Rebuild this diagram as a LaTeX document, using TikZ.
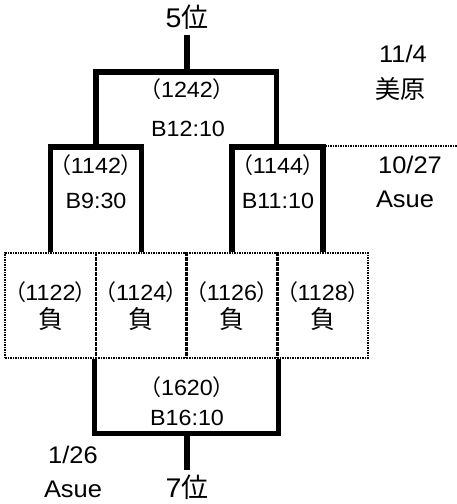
\documentclass[tikz,border=0pt]{standalone}
\usepackage{fontspec}
\setmainfont[FakeStretch=1.06]{Liberation Sans}
\newfontfamily\jp{Noto Sans CJK JP}
\newfontfamily\jpp[RawFeature=+palt]{Noto Sans CJK JP}
\newcommand\myLP{{\jpp （}}
\newcommand\myRP{{\jpp ）}}
\begin{document}
\begin{tikzpicture}[x=1pt,y=-1pt,
  thickline/.style={line width=5.5pt},
  dotline/.style={line width=2.5pt, dash pattern=on 1.5pt off 1pt},
  box/.style={draw, dotline, minimum width=90.75pt, minimum height=105pt, inner sep=0pt},
  lbl/.style={inner sep=0pt, anchor=base, font=\fontsize{22}{22}\selectfont},
  outlbl/.style={inner sep=0pt, anchor=base, font=\fontsize{24}{24}\selectfont},
  kj/.style={inner sep=0pt, anchor=base, font=\jp\fontsize{25}{25}\selectfont},
  rank/.style={inner sep=0pt, anchor=base, font=\fontsize{27}{27}\selectfont},
  ]
\useasboundingbox (0,0) rectangle (457,504);

% first-round boxes
\node[box] (b1) at (50.5,305.5) {};
\node[box] (b2) at (141.25,305.5) {};
\node[box] (b3) at (232,305.5) {};
\node[box] (b4) at (322.75,305.5) {};

% bracket junctions
\coordinate (top) at (187,35);
\coordinate (m1) at (187,72);
\coordinate (sfL) at (96,147);
\coordinate (sfR) at (276.5,147);
\coordinate (m7) at (187,433.5);
\coordinate (bot) at (187,470);
\coordinate (dl1) at (325,146);
\coordinate (dl2) at (457,146);

\draw[thickline] (top) -- (m1);
\draw[thickline] (sfL) |- (m1) -| (sfR);
\draw[thickline] (b1.north) |- (sfL) -| (b2.north);
\draw[thickline] (b3.north) |- (sfR) -| (b4.north);
\draw[thickline] (b2.south west) |- (m7) -| (b3.south east);
\draw[thickline] (m7) -- (bot);
\draw[dotline] (dl1) -- (dl2);

% ranks
\node[rank] (r5) at (187,27) {5{\jp 位}};
\node[rank] (r7) at (187,497) {7{\jp 位}};

% final for 5th
\node[lbl] (n1242) at (187,97) {\myLP1242\myRP};
\node[lbl] (t1242) at (188,136) {B12:10};
\node[outlbl] (d1) at (403,62) {11/4};
\node[kj] (p1) at (400,98) {美原};

% semifinals
\node[lbl] (n1142) at (96,173) {\myLP1142\myRP};
\node[lbl] (t1142) at (96,208) {B9:30};
\node[lbl] (n1144) at (278,173) {\myLP1144\myRP};
\node[lbl] (t1144) at (278,208) {B11:10};
\node[outlbl] (d2) at (410,173) {10/27};
\node[outlbl] (p2) at (405,207) {Asue};

% first round
\node[lbl] (n1122) at (50.5,300) {\myLP1122\myRP};
\node[kj] (k1) at (50.5,328) {負};
\node[lbl] (n1124) at (141.25,300) {\myLP1124\myRP};
\node[kj] (k2) at (141.25,328) {負};
\node[lbl] (n1126) at (232,300) {\myLP1126\myRP};
\node[kj] (k3) at (232,328) {負};
\node[lbl] (n1128) at (322.75,300) {\myLP1128\myRP};
\node[kj] (k4) at (322.75,328) {負};

% 7th place match
\node[lbl] (n1620) at (187,395) {\myLP1620\myRP};
\node[lbl] (t1620) at (187,425) {B16:10};
\node[outlbl] (d3) at (73,463) {1/26};
\node[outlbl] (p3) at (73,497) {Asue};
\end{tikzpicture}
\end{document}
